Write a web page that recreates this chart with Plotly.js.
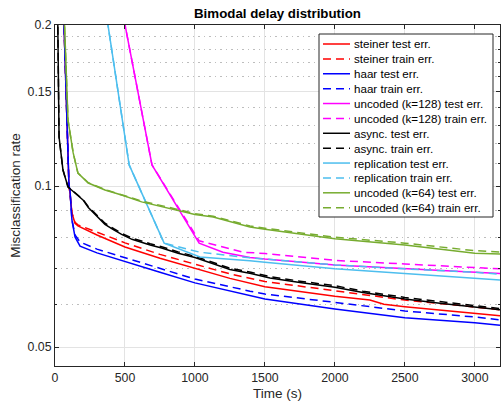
<!DOCTYPE html>
<html>
<head>
<meta charset="utf-8">
<script src="https://cdn.plot.ly/plotly-3.0.1.min.js"></script>
<style>html,body{margin:0;padding:0;background:#fff}#chart{width:501px;height:402px}</style>
</head>
<body>
<div id="chart"></div>
<script>
// ---- data (time in s, misclassification rate) ----
const steinerTestT  = [62, 100, 107, 121, 143, 164, 300, 500, 750, 1000, 1250, 1500, 1750, 2000, 2250, 2350, 2500, 2750, 3000, 3180];
const steinerTestY  = [0.21, 0.100, 0.0970, 0.0890, 0.0852, 0.0842, 0.0810, 0.0769, 0.0733, 0.0702, 0.0672, 0.0648, 0.0635, 0.0622, 0.0612, 0.0601, 0.0595, 0.0587, 0.0579, 0.0572];
const steinerTrainT = [62, 100, 107, 121, 143, 164, 300, 500, 750, 1000, 1250, 1500, 2000, 2500, 3000, 3180];
const steinerTrainY = [0.21, 0.100, 0.0970, 0.0890, 0.0855, 0.0846, 0.0820, 0.0783, 0.0745, 0.0714, 0.0685, 0.0663, 0.0636, 0.0612, 0.0594, 0.0587];

const haarTestT  = [62, 100, 107, 121, 143, 179, 300, 500, 750, 1000, 1393, 1500, 2000, 2500, 3000, 3180];
const haarTestY  = [0.21, 0.100, 0.0983, 0.0864, 0.0803, 0.0772, 0.0750, 0.0722, 0.0690, 0.0659, 0.0625, 0.0615, 0.0589, 0.0567, 0.0555, 0.0549];
const haarTrainT = [62, 100, 107, 121, 143, 179, 300, 500, 750, 1000, 1393, 1500, 2000, 2500, 3000, 3180];
const haarTrainY = [0.21, 0.100, 0.0983, 0.0864, 0.0810, 0.0786, 0.0762, 0.0734, 0.0700, 0.0670, 0.0636, 0.0628, 0.0606, 0.0584, 0.0569, 0.0562];

const unc128TestT  = [458, 693, 1030, 1200, 1393, 1500, 2000, 2500, 3000, 3180];
const unc128TestY  = [0.2285, 0.1095, 0.0782, 0.0752, 0.0735, 0.0730, 0.0712, 0.0700, 0.0690, 0.0686];
const unc128TrainT = [458, 693, 1030, 1343, 1500, 2000, 2500, 3000, 3180];
const unc128TrainY = [0.2285, 0.1095, 0.0790, 0.0752, 0.0748, 0.0726, 0.0715, 0.0704, 0.0700];

const asyncTestT  = [18, 20, 29, 57, 93, 150, 200, 238, 307, 357, 420, 476, 550, 595, 680, 762, 880, 1000, 1120, 1250, 1400, 1536, 1750, 2000, 2200, 2393, 2500, 2750, 3000, 3180];
const asyncTestY  = [0.21, 0.2, 0.1235, 0.1071, 0.0996, 0.0965, 0.0942, 0.0912, 0.0876, 0.0848, 0.0828, 0.0812, 0.0795, 0.0788, 0.0776, 0.0766, 0.0749, 0.0735, 0.0716, 0.0698, 0.0686, 0.0673, 0.0660, 0.0647, 0.0632, 0.0621, 0.0615, 0.0604, 0.0594, 0.0587];
const asyncTrainT = [18, 20, 29, 57, 93, 150, 200, 238, 307, 357, 420, 476, 550, 595, 680, 762, 880, 1000, 1120, 1250, 1400, 1536, 1750, 2000, 2200, 2393, 2500, 2750, 3000, 3180];
const asyncTrainY = [0.21, 0.2, 0.1235, 0.1071, 0.0996, 0.0966, 0.0944, 0.0915, 0.0880, 0.0852, 0.0832, 0.0816, 0.0799, 0.0792, 0.0780, 0.0770, 0.0753, 0.0739, 0.0720, 0.0702, 0.0690, 0.0677, 0.0664, 0.0651, 0.0636, 0.0625, 0.0619, 0.0608, 0.0597, 0.0590];

const replTestT  = [345, 530, 780, 1036, 1393, 1500, 2000, 2357, 2500, 3000, 3180];
const replTestY  = [0.2285, 0.1095, 0.0782, 0.0737, 0.0725, 0.0720, 0.0700, 0.0690, 0.0686, 0.0674, 0.0667];
const replTrainT = [345, 530, 780, 1036, 1393, 1500, 2000, 2500, 3000, 3180];
const replTrainY = [0.2285, 0.1095, 0.0782, 0.0752, 0.0734, 0.0730, 0.0712, 0.0700, 0.0690, 0.0684];

const unc64TestT  = [62, 68, 93, 130, 164, 238, 357, 476, 619, 786, 1000, 1131, 1393, 1500, 2000, 2500, 2750, 3000, 3180];
const unc64TestY  = [0.21, 0.2, 0.1328, 0.1153, 0.1057, 0.1013, 0.0983, 0.0962, 0.0934, 0.0913, 0.0885, 0.0875, 0.0838, 0.0830, 0.0797, 0.0776, 0.0762, 0.0749, 0.0746];
const unc64TrainT = [62, 68, 93, 130, 164, 238, 357, 476, 619, 786, 1000, 1131, 1393, 1500, 2000, 2500, 2750, 3000, 3180];
const unc64TrainY = [0.21, 0.2, 0.1328, 0.1153, 0.1057, 0.1014, 0.0985, 0.0964, 0.0937, 0.0916, 0.0888, 0.0878, 0.0842, 0.0834, 0.0802, 0.0782, 0.0769, 0.0757, 0.0753];

const seriesNames = [
  'steiner test err.', 'steiner train err.',
  'haar test err.', 'haar train err.',
  'uncoded (k=128) test err.', 'uncoded (k=128) train err.',
  'async. test err.', 'async. train err.',
  'replication test err.', 'replication train err.',
  'uncoded (k=64) test err.', 'uncoded (k=64) train err.'
];
const xTickVals = [0, 500, 1000, 1500, 2000, 2500, 3000];
const yTickVals = [0.05, 0.1, 0.15, 0.2];
const yTickText = ['0.05', '0.1', '0.15', '0.2'];
const yMinorVals = [0.06, 0.07, 0.08, 0.09, 0.11, 0.12, 0.13, 0.14, 0.16, 0.17, 0.18, 0.19];

// ---- styling ----
const colors = ['#ff0000', '#0000ff', '#ff00ff', '#000000', '#4DBEEE', '#77AC30'];
const DASH = '8px,5px';
const xs = [steinerTestT, steinerTrainT, haarTestT, haarTrainT, unc128TestT, unc128TrainT, asyncTestT, asyncTrainT, replTestT, replTrainT, unc64TestT, unc64TrainT];
const ys = [steinerTestY, steinerTrainY, haarTestY, haarTrainY, unc128TestY, unc128TrainY, asyncTestY, asyncTrainY, replTestY, replTrainY, unc64TestY, unc64TrainY];

const traces = [];
for (let i = 0; i < 12; i++) {
  const c = colors[Math.floor(i / 2)];
  traces.push({
    x: xs[i], y: ys[i], type: 'scatter', mode: 'lines', name: seriesNames[i],
    showlegend: false, hoverinfo: 'skip',
    line: {color: c, width: 1.5, dash: (i % 2 === 1) ? DASH : 'solid'}
  });
}

// ---- manual legend (MATLAB-like compact box) ----
const L = 55, R = 500, T = 25, B = 366;
const W = R - L, H = B - T;
const px2x = p => (p - L) / W;
const py2y = p => (B - p) / H;
const shapes = [];
const annotations = [];
shapes.push({type: 'rect', xref: 'paper', yref: 'paper', x0: px2x(319), x1: px2x(493), y0: py2y(217), y1: py2y(34),
  fillcolor: '#ffffff', line: {color: '#262626', width: 1}, layer: 'above'});
for (let i = 0; i < 12; i++) {
  const py = 44 + 14.88 * i;
  const c = colors[Math.floor(i / 2)];
  shapes.push({type: 'line', xref: 'paper', yref: 'paper', x0: px2x(323), x1: px2x(350), y0: py2y(py), y1: py2y(py),
    line: {color: c, width: 1.5, dash: (i % 2 === 1) ? DASH : 'solid'}, layer: 'above'});
  annotations.push({xref: 'paper', yref: 'paper', x: px2x(352), y: py2y(py), xanchor: 'left', yanchor: 'middle',
    text: seriesNames[i], showarrow: false, font: {family: 'Liberation Sans, Arial, sans-serif', size: 11.6, color: '#000000'}});
}

const layout = {
  width: 501, height: 402,
  margin: {l: L, r: 501 - R, t: T, b: 402 - B, pad: 0},
  paper_bgcolor: '#ffffff', plot_bgcolor: '#ffffff',
  font: {family: 'Liberation Sans, Arial, sans-serif', color: '#262626', size: 12.3},
  title: {text: '<b>Bimodal delay distribution</b>', x: (L + R) / 2 / 501, xanchor: 'center', y: 1 - 13 / 402, yanchor: 'middle',
    font: {size: 13.3, color: '#000000'}},
  showlegend: false,
  xaxis: {
    type: 'linear', range: [0, 3180], tickvals: xTickVals, ticktext: xTickVals.map(String),
    ticks: 'inside', ticklen: 4, tickcolor: '#262626', tickwidth: 1,
    showline: true, linecolor: '#262626', linewidth: 1, mirror: 'ticks',
    showgrid: true, gridcolor: '#e3e3e3', gridwidth: 1, zeroline: false,
    tickfont: {size: 12.3, color: '#262626'},
    title: {text: 'Time (s)', font: {size: 13.5, color: '#262626'}, standoff: 4}
  },
  yaxis: {
    type: 'log', range: [Math.log10(0.04608), Math.log10(0.2)],
    tickvals: yTickVals, ticktext: yTickText,
    ticks: 'inside', ticklen: 4, tickcolor: '#262626', tickwidth: 1,
    showline: true, linecolor: '#262626', linewidth: 1, mirror: 'ticks',
    showgrid: true, gridcolor: '#e3e3e3', gridwidth: 1, zeroline: false,
    tickfont: {size: 12.3, color: '#262626'},
    minor: {tickmode: 'array', tickvals: yMinorVals, ticks: 'inside', ticklen: 2, tickcolor: '#262626',
      showgrid: true, gridcolor: '#bdbdbd', griddash: '1.5px,4px', gridwidth: 1},
    title: {text: 'Misclassification rate', font: {size: 13.5, color: '#262626'}, standoff: 3}
  },
  shapes: shapes,
  annotations: annotations
};

Plotly.newPlot('chart', traces, layout, {displayModeBar: false, staticPlot: true});
</script>
</body>
</html>
